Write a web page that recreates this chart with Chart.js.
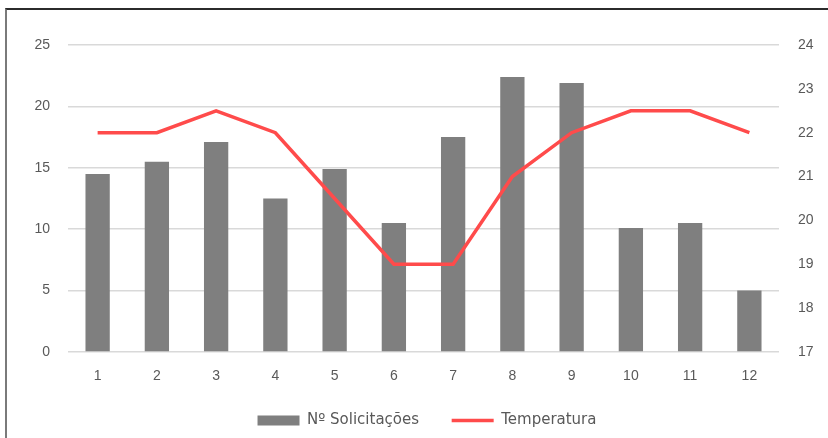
<!DOCTYPE html>
<html lang="pt">
<head>
<meta charset="utf-8">
<title>Solicitações x Temperatura</title>
<script src="https://cdn.jsdelivr.net/npm/chart.js@4.4.1/dist/chart.umd.min.js"></script>
<style>
  html, body { margin: 0; padding: 0; background: #fff; }
  #moldura {
    position: absolute; left: 5px; top: 8px; width: 823px; height: 430px;
    border-top: 2px solid #2b2b2b; border-left: 2px solid #7a7a7a;
    box-sizing: border-box;
  }
  #caixa { position: absolute; left: 0; top: 0; width: 828px; height: 438px; }
</style>
</head>
<body>
<div id="moldura"></div>
<div id="caixa"><canvas id="grafico"></canvas></div>
<script>
'use strict';

// dados por mes
let meses = ['1', '2', '3', '4', '5', '6', '7', '8', '9', '10', '11', '12'];
let solicitacoes = [14.5, 15.5, 17.1, 12.5, 14.9, 10.5, 17.5, 22.4, 21.9, 10.1, 10.5, 5.0];
let temperatura = [22, 22, 22.5, 22, 20.5, 19, 19, 21, 22, 22.5, 22.5, 22];

// eixos
let eixoSolic = { min: 0, max: 25, passo: 5 };
let eixoTemp = { min: 17, max: 24, passo: 1 };

let corBarra = '#7f7f7f';
let corLinha = '#ff4b4b';
let corTexto = '#595959';
let fonte = "'Liberation Sans', Arial, sans-serif";
let fonteLegenda = "'DejaVu Sans', sans-serif";

let ctx = document.getElementById('grafico').getContext('2d');
let grafico = new Chart(ctx, {
  type: 'bar',
  data: {
    labels: meses,
    datasets: [{
      label: 'Nº Solicitações',
      data: solicitacoes,
      backgroundColor: corBarra,
      yAxisID: 'y',
      barPercentage: 0.41,
      categoryPercentage: 1,
      order: 2
    },
    {
      type: 'line',
      label: 'Temperatura',
      data: temperatura,
      borderColor: corLinha,
      backgroundColor: corLinha,
      borderWidth: 3.5,
      pointRadius: 0,
      tension: 0,
      yAxisID: 'y1',
      order: 1
    }]
  },
  options: {
    responsive: true,
    maintainAspectRatio: false,
    animation: false,
    layout: { padding: { top: 45, left: 26, right: 0, bottom: 0 } },
    plugins: {
      tooltip: { enabled: false },
      legend: {
        position: 'bottom',
        labels: {
          color: corTexto,
          font: { family: fonteLegenda, size: 15 },
          usePointStyle: true,
          pointStyleWidth: 42,
          boxHeight: 10,
          padding: 4,
          generateLabels: function(chart) {
            let ultimo = chart.data.datasets.length - 1;
            return chart.data.datasets.map(function(ds, i) {
              let linha = ds.type === 'line';
              return {
                // espaco extra entre os itens da legenda
                text: i < ultimo ? ds.label + '      ' : ds.label,
                fillStyle: linha ? 'transparent' : ds.backgroundColor,
                strokeStyle: linha ? ds.borderColor : ds.backgroundColor,
                lineWidth: linha ? 3.5 : 0,
                pointStyle: linha ? 'line' : 'rect',
                fontColor: corTexto,
                hidden: false,
                datasetIndex: i
              };
            });
          }
        }
      }
    },
    scales: {
      x: {
        grid: { display: false, drawTicks: false },
        border: { display: false },
        ticks: { color: corTexto, font: { family: fonte, size: 14 }, padding: 16 },
        afterFit: function(scale) { scale.height = 57; }
      },
      y: {
        position: 'left',
        min: eixoSolic.min,
        max: eixoSolic.max,
        grid: { color: '#d9d9d9', lineWidth: 1.5, drawTicks: false },
        border: { display: false },
        ticks: { stepSize: eixoSolic.passo, color: corTexto, font: { family: fonte, size: 14 }, padding: 18 },
        afterFit: function(scale) { scale.width = 42; }
      },
      y1: {
        position: 'right',
        min: eixoTemp.min,
        max: eixoTemp.max,
        grid: { display: false, drawTicks: false },
        border: { display: false },
        ticks: { stepSize: eixoTemp.passo, color: corTexto, font: { family: fonte, size: 14 }, padding: 19 },
        afterFit: function(scale) { scale.width = 49; }
      }
    }
  }
});
</script>
</body>
</html>
